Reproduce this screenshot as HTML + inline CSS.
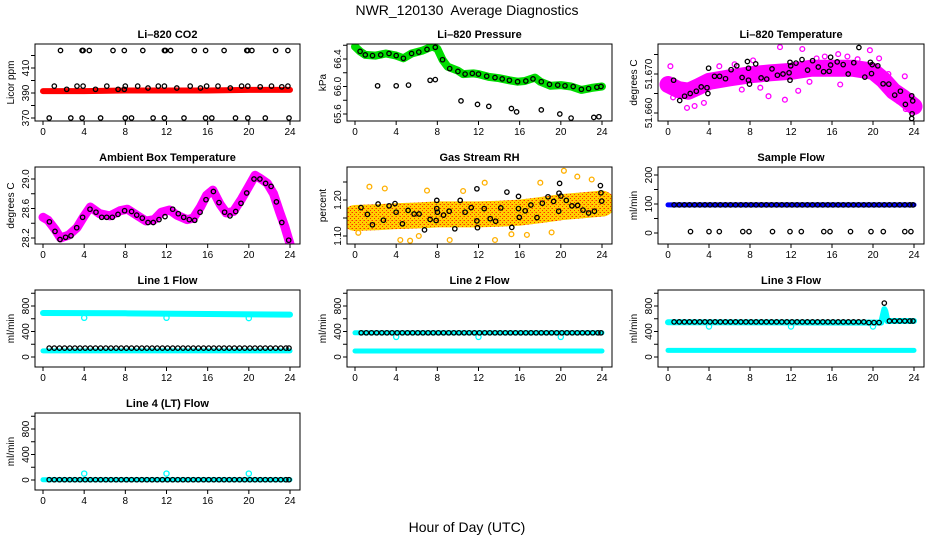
<!DOCTYPE html>
<html><head><meta charset="utf-8"><title>NWR_120130 Average Diagnostics</title>
<style>
html,body{margin:0;padding:0;background:#fff;}
svg{display:block;font-family:"Liberation Sans",Arial,sans-serif;}
</style></head>
<body>
<svg id="chart" width="936" height="540" viewBox="0 0 936 540" xmlns="http://www.w3.org/2000/svg">
<defs>
<pattern id="rhpat" width="4" height="4" patternUnits="userSpaceOnUse">
<rect width="4" height="4" fill="#ffd000"/>
<rect x="0" y="0" width="1" height="1" fill="#ff3000"/>
<rect x="2" y="2" width="1" height="1" fill="#ff3000"/>
<rect x="3" y="0" width="1" height="1" fill="#ff8800"/>
</pattern>
</defs>
<text x="467" y="15" font-size="14" text-anchor="middle">NWR_120130&#160; Average Diagnostics</text>
<text x="467" y="532" font-size="14" text-anchor="middle">Hour of Day (UTC)</text>
</svg>
<script>
// ---------- DATA ----------
const xTicks=[0,4,8,12,16,20,24];
const xTickLabels=['0','4','8','12','16','20','24'];

// CO2
const co2RedT=[0,4,8,12,16,20,24];
const co2RedV=[391.5,391.5,392,392,392,392.5,392.5];
const co2BlackT=[1.7,3.8,3.9,4.5,6.8,7.9,9.7,11.8,11.9,12.4,14.7,15.8,17.6,19.8,19.9,20.3,22.6,23.8,
 1.1,2.3,3.3,3.9,5.1,6.2,7.3,7.9,8.0,9.2,10.2,11.2,11.8,13.0,14.3,15.3,15.9,17.0,18.2,19.3,19.9,21.1,22.2,23.2,23.8,
 0.6,2.7,3.8,5.6,8.0,8.6,10.7,11.8,13.7,15.8,16.4,18.7,19.9,21.6,23.9];
const co2BlackV=[424,424,424,424,424,424,424,424,424,424,424,424,424,424,424,424,424,424,
 395.5,393,395.5,395.5,393,395.5,393,393,395.5,395.5,394,395.5,395.5,394,395.5,394,395.5,395.5,394,395.5,395.5,395,395.5,395,395.5,
 370,370,370,370,370,370,370,370,370,370,370,370,370,370,370];
const co2YTicks=[370,380,390,400,410,420];
const co2YLabels=['370','','390','','410',''];

// Pressure
const presGreenT=[0,0.5,1,2,3,4,4.7,5.5,6.5,7.5,8,8.5,9,10,10.5,11.5,12,13,14,15,15.8,16.5,17.5,18,19,20,21,22,23,24];
const presGreenV=[66.58,66.51,66.46,66.45,66.48,66.45,66.41,66.48,66.52,66.58,66.55,66.39,66.29,66.23,66.18,66.19,66.18,66.14,66.12,66.09,66.07,66.08,66.13,66.07,66.01,66.02,66.00,65.95,65.98,66.00];
const presBlackT=[0.5,1,1.7,2.5,3.3,4,4.7,5.5,6.2,7,7.8,8.5,9.2,10,10.7,11.4,12,12.8,13.6,14.3,15,15.8,16.6,17.3,18.1,18.9,19.7,20.4,21.2,22,22.7,23.5,23.9,
 2.2,4.0,5.2,7.3,7.8,10.3,11.9,13.0,15.2,15.7,18.1,19.9,21.0,23.2,23.7];
const presBlackV=[66.51,66.46,66.45,66.46,66.48,66.45,66.41,66.48,66.50,66.54,66.57,66.39,66.26,66.22,66.18,66.19,66.18,66.15,66.13,66.11,66.09,66.07,66.08,66.11,66.07,66.03,66.02,66.01,66.00,65.96,65.97,65.99,66.00,
 66.01,66.01,66.02,66.09,66.10,65.79,65.74,65.71,65.68,65.63,65.66,65.60,65.54,65.55,65.56];
const presYTicks=[65.6,65.8,66.0,66.2,66.4,66.6];
const presYLabels=['65.6','','66.0','','66.4',''];

// Li-820 temperature
const tempBandT=[0,1,2,3,4,6,8,10,12,14,16,18,20,21,22,23,24];
const tempBandV=[51.6673,51.6660,51.6656,51.6668,51.6681,51.6690,51.6698,51.6703,51.6707,51.6715,51.6715,51.6715,51.6707,51.6685,51.6656,51.6638,51.6617];
const tempMagT=[0.23,10.93,13.1,16.6,19.7,23.1,1.85,11.4,9.8,16.8,12.7,3.5,23.2,6.5,14.5,18.5,8.3,2.6,20.6,22.5,5.0,7.2,15.3,21.5,0.5,9.0,17.5,13.8];
const tempMagV=[51.6720,51.6769,51.6764,51.6751,51.6761,51.6694,51.6613,51.6634,51.6643,51.6673,51.6657,51.6626,51.6610,51.6725,51.6740,51.6738,51.6735,51.6618,51.6740,51.6630,51.6720,51.6660,51.6745,51.6700,51.6640,51.6665,51.6745,51.6680];
const tempBlackT=[0.55,1.14,1.62,2.17,2.76,3.24,3.80,3.89,3.96,4.54,5.03,5.61,6.16,6.71,7.23,7.75,7.85,7.85,7.95,8.56,9.08,9.63,10.15,10.67,11.22,11.81,11.90,11.90,11.97,12.49,13.07,13.62,14.11,14.66,15.18,15.73,15.86,15.86,16.51,17.09,17.58,18.13,18.62,19.20,19.75,19.85,19.92,20.47,20.99,21.54,22.12,22.67,23.16,23.78,23.87,23.81,23.78];
const tempBlackV=[51.6684,51.6632,51.6643,51.6650,51.6656,51.6667,51.6665,51.6650,51.6715,51.6694,51.6694,51.6688,51.6711,51.6721,51.6691,51.6732,51.6715,51.6684,51.6674,51.6726,51.6690,51.6687,51.6713,51.6697,51.6700,51.6703,51.6684,51.6730,51.6721,51.6728,51.6737,51.6710,51.6734,51.6718,51.6706,51.6707,51.6743,51.6723,51.6731,51.6724,51.6700,51.6729,51.6768,51.6692,51.6730,51.6701,51.6724,51.6721,51.6675,51.6674,51.6646,51.6656,51.6622,51.6644,51.6631,51.6598,51.6586];
const tempYTicks=[51.660,51.665,51.670,51.675];
const tempYLabels=['51.660','','51.670',''];

// Ambient box temperature
const ambBandT=[0,0.5,1.2,1.7,2.5,3.3,4,4.6,5.5,6.5,7.5,8.2,9,10,10.8,11.5,12.3,13,14,14.6,15.3,15.9,16.5,17.2,17.8,18.5,19.3,20,20.6,21.2,21.8,22.4,23,23.5,24];
const ambBandV=[28.48,28.44,28.31,28.20,28.24,28.34,28.50,28.62,28.53,28.50,28.57,28.59,28.52,28.43,28.45,28.55,28.58,28.51,28.45,28.47,28.62,28.78,28.85,28.66,28.54,28.56,28.73,28.90,29.05,29.00,28.94,28.80,28.55,28.35,28.12];
const ambBlackT=[0.62,1.17,1.65,2.2,2.72,3.27,3.85,4.57,5.15,5.70,6.19,6.73,7.29,7.93,8.61,9.1,9.65,10.2,10.72,11.27,11.85,12.6,13.15,13.67,14.22,14.74,15.26,15.84,16.56,17.1,17.65,18.17,18.72,19.24,19.79,20.5,21.08,21.63,22.16,22.68,23.2,23.87];
const ambBlackV=[28.42,28.29,28.18,28.21,28.23,28.34,28.48,28.59,28.55,28.48,28.48,28.48,28.52,28.57,28.56,28.51,28.47,28.41,28.41,28.45,28.49,28.59,28.53,28.48,28.45,28.44,28.55,28.72,28.83,28.68,28.55,28.50,28.56,28.67,28.81,29.00,29.00,28.94,28.90,28.69,28.41,28.17];
const ambYTicks=[28.2,28.4,28.6,28.8,29.0];
const ambYLabels=['28.2','','28.6','','29.0'];

// Gas stream RH
const rhBandT=[0,2,4,6,8,10,12,14,16,18,20,22,24];
const rhBandV=[1.150,1.152,1.155,1.157,1.160,1.160,1.160,1.162,1.165,1.172,1.180,1.185,1.190];
const rhYellowT=[0.32,1.4,2.9,4.4,5.35,7,9.2,12.6,13.6,16.7,18,20.3,21.6,23,6.2,10.5,15.2,19.1];
const rhYellowV=[1.109,1.237,1.232,1.089,1.087,1.226,1.089,1.248,1.089,1.103,1.248,1.281,1.265,1.257,1.100,1.225,1.105,1.110];
const rhBlackT=[0.58,1.20,1.69,2.24,2.76,3.31,3.89,3.99,4.61,5.16,5.74,6.23,6.75,7.30,7.88,7.95,7.95,8.01,8.60,9.15,9.70,10.22,10.70,11.29,11.84,11.84,11.90,12.55,13.14,13.66,14.17,14.76,15.24,15.89,15.89,15.96,16.54,17.09,17.68,18.20,18.75,19.30,19.79,19.82,19.88,20.01,20.53,21.08,21.63,22.15,22.70,23.26,23.84,23.90,23.97];
const rhBlackV=[1.179,1.160,1.131,1.189,1.144,1.184,1.190,1.166,1.134,1.171,1.161,1.161,1.117,1.146,1.143,1.199,1.176,1.166,1.158,1.169,1.120,1.199,1.166,1.179,1.231,1.142,1.123,1.176,1.148,1.141,1.178,1.222,1.124,1.210,1.176,1.152,1.170,1.186,1.151,1.191,1.209,1.196,1.169,1.219,1.246,1.211,1.199,1.184,1.185,1.172,1.164,1.169,1.240,1.220,1.197];
const rhYTicks=[1.10,1.15,1.20,1.25];
const rhYLabels=['1.10','','1.20',''];

// Flows
const flowTimes=[0.6,1.1,1.6,2.1,2.6,3.1,3.6,4.1,4.6,5.1,5.6,6.1,6.6,7.1,7.6,8.1,8.6,9.1,9.6,10.1,10.6,11.1,11.6,12.1,12.6,13.1,13.6,14.1,14.6,15.1,15.6,16.1,16.6,17.1,17.6,18.1,18.6,19.1,19.6,20.1,20.6,21.1,21.6,22.1,22.6,23.1,23.6,23.9];
const sampleBlackV=[97,97,97,97,97,97,97,97,97,97,97,97,97,97,97,97,97,97,97,97,97,97,97,97,97,97,97,97,97,97,97,97,97,97,97,97,97,97,97,97,97,97,97,97,97,97,97,97];
const sampleLowT=[2.2,4.0,5.0,7.3,7.9,10.2,11.9,13.0,15.2,15.8,17.8,19.8,21.0,23.1,23.7];
const sampleLowV=[5,5,5,5,5,5,5,5,5,5,5,5,5,5,5];
const sampleBlueT=[0,24];
const sampleBlueV=[97,97];
const flowYTicksSample=[0,50,100,150,200];
const flowYLabelsSample=['0','','100','','200'];

const line1BlackV=[140,140,140,140,140,140,140,140,140,140,140,140,140,140,140,140,140,140,140,140,140,140,140,140,140,140,140,140,140,140,140,140,140,140,140,140,140,140,140,140,140,140,140,140,140,140,140,140];
const line1CyanHiT=[0,8,16,24];
const line1CyanHiV=[690,685,675,665];
const line1CyanLoT=[0,24];
const line1CyanLoV=[95,95];
const line1CyanOutT=[4,12,20];
const line1CyanOutV=[615,615,610];

const line2BlackV=[380,380,380,380,380,380,380,380,380,380,380,380,380,380,380,380,380,380,380,380,380,380,380,380,380,380,380,380,380,380,380,380,380,380,380,380,380,380,380,380,380,380,380,380,380,380,380,380];
const line2CyanHiT=[0,24];
const line2CyanHiV=[380,380];
const line2CyanLoT=[0,24];
const line2CyanLoV=[94,94];
const line2CyanOutT=[4,12,20];
const line2CyanOutV=[315,315,315];

const line3BlackV=[550,550,550,550,550,550,550,550,550,550,550,550,550,550,550,550,550,550,550,550,550,550,550,550,550,550,550,550,550,550,550,550,550,550,550,550,550,550,540,540,540,845,565,565,565,565,565,565];
const line3CyanHiT=[0,20.8,21.1,21.2,21.4,24];
const line3CyanHiV=[545,540,750,720,565,565];
const line3CyanLoT=[0,24];
const line3CyanLoV=[104,104];
const line3CyanOutT=[4,12,20];
const line3CyanOutV=[478,478,478];

const line4BlackV=[5,5,5,5,5,5,5,5,5,5,5,5,5,5,5,5,5,5,5,5,5,5,5,5,5,5,5,5,5,5,5,5,5,5,5,5,5,5,5,5,5,5,5,5,5,5,5,5];
const line4CyanT=[0,24];
const line4CyanV=[5,5];
const line4CyanOutT=[4,12,20];
const line4CyanOutV=[100,100,100];
const flowYTicks=[0,200,400,600,800,1000];
const flowYLabels=['0','','400','','800',''];

// ---------- DRAWING ----------
const NS='http://www.w3.org/2000/svg';
const svg=document.getElementById('chart');
function mk(tag,parent){const e=document.createElementNS(NS,tag);parent.appendChild(e);return e;}
let clipN=0;
function panel(name,title,box,xp,yref,yTicks,yLabels,yTitle){
  const [l,t,r,b]=box;
  const g=mk('g',svg);
  
  
  const xs=v=>xp[0]+(v/24)*(xp[1]-xp[0]);
  const ys=v=>yref[1]+(v-yref[0])*(yref[3]-yref[1])/(yref[2]-yref[0]);
  const cp=mk('clipPath',g); const id='cp'+(clipN++); cp.setAttribute('id',id);
  const cr=mk('rect',cp); cr.setAttribute('x',l); cr.setAttribute('y',t); cr.setAttribute('width',r-l); cr.setAttribute('height',b-t);
  const marks=mk('g',g);
  marks.setAttribute('clip-path','url(#'+id+')');
  
  
  const frame=mk('rect',g);
  
  
  frame.setAttribute('x',l);frame.setAttribute('y',t);frame.setAttribute('width',r-l);frame.setAttribute('height',b-t);
  frame.setAttribute('fill','none');frame.setAttribute('stroke','#000');frame.setAttribute('stroke-width','1');
  const tt=mk('text',g);
  
  
  tt.setAttribute('x',(l+r)/2);tt.setAttribute('y',t-6);tt.setAttribute('font-size','11');tt.setAttribute('font-weight','bold');tt.setAttribute('text-anchor','middle');
  tt.textContent=title;
  const xa=mk('g',g);
  
  
  xTicks.forEach((v,i)=>{
    const ln=mk('line',xa);
    
    
    ln.setAttribute('x1',xs(v));ln.setAttribute('x2',xs(v));ln.setAttribute('y1',b);ln.setAttribute('y2',b+4);ln.setAttribute('stroke','#000');
    const tx=mk('text',xa);
    
    
    tx.setAttribute('x',xs(v));tx.setAttribute('y',b+14);tx.setAttribute('font-size','10');tx.setAttribute('text-anchor','middle');
    tx.textContent=xTickLabels[i];
  });
  const ya=mk('g',g);
  
  
  yTicks.forEach((v,i)=>{
    const y=ys(v);
    const ln=mk('line',ya);
    
    
    ln.setAttribute('x1',l-4);ln.setAttribute('x2',l);ln.setAttribute('y1',y);ln.setAttribute('y2',y);ln.setAttribute('stroke','#000');
    if(yLabels[i]){
      const tx=mk('text',ya);
      
      
      tx.setAttribute('transform','translate('+(l-6)+','+y+') rotate(-90)');
      tx.setAttribute('font-size','10');tx.setAttribute('text-anchor','middle');
      tx.textContent=yLabels[i];
    }
  });
  const yt=mk('text',g);
  
  
  yt.setAttribute('transform','translate('+(l-21)+','+((t+b)/2)+') rotate(-90)');
  yt.setAttribute('font-size','10');yt.setAttribute('text-anchor','middle');
  yt.textContent=yTitle;
  return {g:marks,xs,ys};
}
function band(p,T,V,color,w,name){
  const pl=mk('polyline',p.g);
  
  
  pl.setAttribute('points',T.map((t,i)=>p.xs(t).toFixed(1)+','+p.ys(V[i]).toFixed(1)).join(' '));
  pl.setAttribute('fill','none');pl.setAttribute('stroke',color);pl.setAttribute('stroke-width',w);
  pl.setAttribute('stroke-linecap','round');pl.setAttribute('stroke-linejoin','round');
}
function dots(p,T,V,color,name,r){
  T.forEach((t,i)=>{
    const c=mk('circle',p.g);
    
    
    c.setAttribute('cx',p.xs(t).toFixed(1));c.setAttribute('cy',p.ys(V[i]).toFixed(1));
    c.setAttribute('r',r||2.2);c.setAttribute('fill','none');c.setAttribute('stroke',color);c.setAttribute('stroke-width','1.3');
  });
}
const C1=[35,300,43,290],C2=[347,612,355,602],C3=[658,924,668,914];
const R=[[44,121],[167,244],[290,367],[413,490]];
function bx(c,r){return [c[0],R[r][0],c[1],R[r][1]];}
function xp(c){return [c[2],c[3]];}

// Panel 1: CO2
let p=panel('panel-co2','Li–820 CO2',bx(C1,0),xp(C1),[370,118,410,68],co2YTicks,co2YLabels,'Licor ppm');
band(p,co2RedT,co2RedV,'#ff0000',6,'co2-red-series');
dots(p,co2BlackT,co2BlackV,'#000','co2-black-point');

// Panel 2: Pressure
p=panel('panel-pressure','Li–820 Pressure',bx(C2,0),xp(C2),[66.4,59,65.6,114],presYTicks,presYLabels,'kPa');
band(p,presGreenT,presGreenV,'#00dd00',8,'pressure-green-series');
dots(p,presBlackT,presBlackV,'#000','pressure-black-point');

// Panel 3: Temperature
p=panel('panel-li820-temperature','Li–820 Temperature',bx(C3,0),xp(C3),[51.670,74,51.660,113],tempYTicks,tempYLabels,'degrees C');
band(p,tempBandT,tempBandV,'#ff00ff',17,'temp-magenta-band');
dots(p,tempMagT,tempMagV,'#ff00ff','temp-magenta-point',2.4);
dots(p,tempBlackT,tempBlackV,'#000','temp-black-point');

// Panel 4: Ambient
p=panel('panel-ambient-temperature','Ambient Box Temperature',bx(C1,1),xp(C1),[29.0,179,28.2,238],ambYTicks,ambYLabels,'degrees C');
band(p,ambBandT,ambBandV,'#ff00ff',9,'ambient-magenta-band');
dots(p,ambBlackT,ambBlackV,'#000','ambient-black-point');

// Panel 5: RH
p=panel('panel-gas-rh','Gas Stream RH',bx(C2,1),xp(C2),[1.20,200,1.10,236],rhYTicks,rhYLabels,'percent');
band(p,rhBandT,rhBandV,'url(#rhpat)',26,'rh-orange-band');
dots(p,rhYellowT,rhYellowV,'#ffb000','rh-yellow-point',2.4);
dots(p,rhBlackT,rhBlackV,'#000','rh-black-point');

// Panel 6: Sample flow
p=panel('panel-sample-flow','Sample Flow',bx(C3,1),xp(C3),[0,233,200,175],flowYTicksSample,flowYLabelsSample,'ml/min');
band(p,sampleBlueT,sampleBlueV,'#0000ff',5,'sample-blue-series');
dots(p,flowTimes,sampleBlackV,'#000','sample-black-point');
dots(p,sampleLowT,sampleLowV,'#000','sample-low-point');

// Panel 7: Line 1
p=panel('panel-line1-flow','Line 1 Flow',bx(C1,2),xp(C1),[0,357,800,306],flowYTicks,flowYLabels,'ml/min');
band(p,line1CyanHiT,line1CyanHiV,'#00ffff',6,'line1-cyan-high');
band(p,line1CyanLoT,line1CyanLoV,'#00ffff',5,'line1-cyan-low');
dots(p,line1CyanOutT,line1CyanOutV,'#00ffff','line1-cyan-outlier',2.6);
dots(p,flowTimes,line1BlackV,'#000','line1-black-point');

// Panel 8: Line 2
p=panel('panel-line2-flow','Line 2 Flow',bx(C2,2),xp(C2),[0,357,800,306],flowYTicks,flowYLabels,'ml/min');
band(p,line2CyanHiT,line2CyanHiV,'#00ffff',5,'line2-cyan-high');
band(p,line2CyanLoT,line2CyanLoV,'#00ffff',5,'line2-cyan-low');
dots(p,line2CyanOutT,line2CyanOutV,'#00ffff','line2-cyan-outlier',2.6);
dots(p,flowTimes,line2BlackV,'#000','line2-black-point');

// Panel 9: Line 3
p=panel('panel-line3-flow','Line 3 Flow',bx(C3,2),xp(C3),[0,357,800,306],flowYTicks,flowYLabels,'ml/min');
band(p,line3CyanHiT,line3CyanHiV,'#00ffff',6,'line3-cyan-high');
band(p,line3CyanLoT,line3CyanLoV,'#00ffff',5,'line3-cyan-low');
dots(p,line3CyanOutT,line3CyanOutV,'#00ffff','line3-cyan-outlier',2.6);
dots(p,flowTimes,line3BlackV,'#000','line3-black-point');

// Panel 10: Line 4
p=panel('panel-line4-flow','Line 4 (LT) Flow',bx(C1,3),xp(C1),[0,480,800,429],flowYTicks,flowYLabels,'ml/min');
band(p,line4CyanT,line4CyanV,'#00ffff',5,'line4-cyan-series');
dots(p,line4CyanOutT,line4CyanOutV,'#00ffff','line4-cyan-outlier',2.6);
dots(p,flowTimes,line4BlackV,'#000','line4-black-point');
</script>
</body></html>
